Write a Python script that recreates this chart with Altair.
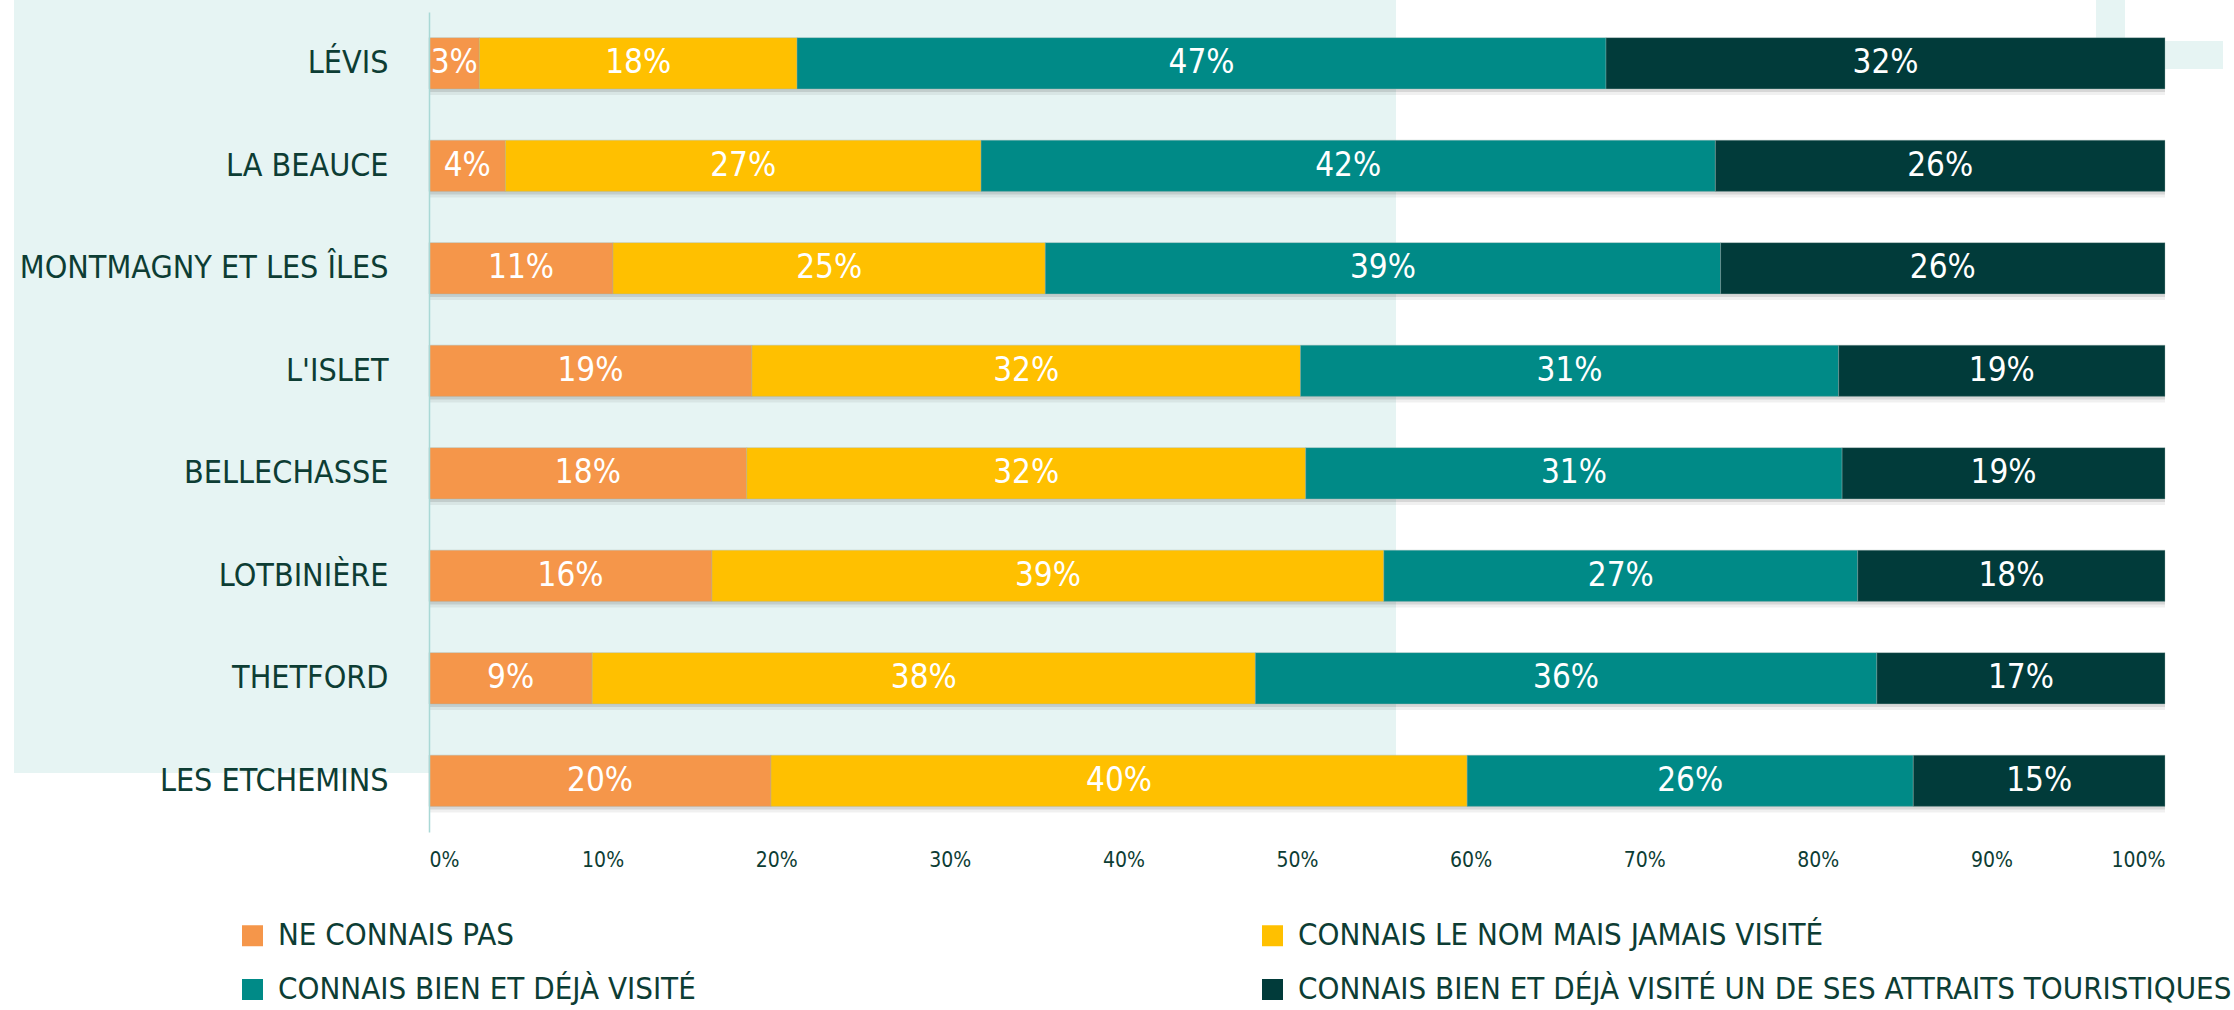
import altair as alt
import pandas as pd

regions = ["LÉVIS", "LA BEAUCE", "MONTMAGNY ET LES ÎLES", "L'ISLET",
           "BELLECHASSE", "LOTBINIÈRE", "THETFORD", "LES ETCHEMINS"]
categories = ["NE CONNAIS PAS",
              "CONNAIS LE NOM MAIS JAMAIS VISITÉ",
              "CONNAIS BIEN ET DÉJÀ VISITÉ",
              "CONNAIS BIEN ET DÉJÀ VISITÉ UN DE SES ATTRAITS TOURISTIQUES"]
colors = ["#F5964A", "#FFC000", "#008A87", "#013B3A"]

ne_connais_pas = [2.9, 4.4, 10.6, 18.6, 18.3, 16.3, 9.4, 19.7]
connais_nom = [18.3, 27.4, 24.9, 31.6, 32.2, 38.7, 38.2, 40.1]
connais_bien = [46.6, 42.3, 38.9, 31.0, 30.9, 27.3, 35.8, 25.7]
attraits = [32.2, 25.9, 25.6, 18.8, 18.6, 17.7, 16.6, 14.5]
x_ticks = [0, 10, 20, 30, 40, 50, 60, 70, 80, 90, 100]

FONT = "DejaVu Sans Condensed, sans-serif"
TEXT = "#0D3D34"
BG = "#E6F4F3"

series = [ne_connais_pas, connais_nom, connais_bien, attraits]
rows = []
for i, r in enumerate(regions):
    start = 0.0
    for c, vals in zip(categories, series):
        v = vals[i]
        rows.append({"region": r, "cat": c, "start": start, "end": start + v,
                     "mid": start + v / 2, "label": f"{int(v + 0.5)}%"})
        start += v
df = pd.DataFrame(rows)
totals = pd.DataFrame({"region": regions, "zero": [0] * len(regions),
                       "total": [a + b + c + d for a, b, c, d in zip(*series)]})
dummy = pd.DataFrame({"k": [0]})

yscale = alt.Scale(domain=regions, paddingInner=0.5, paddingOuter=0.25)
xscale = alt.Scale(domain=[0, 100], nice=False)

bg_rect = alt.Chart(dummy).mark_rect(color=BG).encode(
    x=alt.value(-415), x2=alt.value(967), y=alt.value(-12), y2=alt.value(761))
deco_v = alt.Chart(dummy).mark_rect(color=BG).encode(
    x=alt.value(1667), x2=alt.value(1696), y=alt.value(-12), y2=alt.value(40))
deco_h = alt.Chart(dummy).mark_rect(color=BG).encode(
    x=alt.value(1667), x2=alt.value(1794), y=alt.value(29), y2=alt.value(57))

shadow1 = alt.Chart(totals).mark_bar(color="#000000", opacity=0.10, yOffset=3).encode(
    y=alt.Y("region:N", scale=yscale, sort=regions),
    x=alt.X("zero:Q", scale=xscale), x2="total:Q")
shadow2 = alt.Chart(totals).mark_bar(color="#000000", opacity=0.06, yOffset=6).encode(
    y=alt.Y("region:N", scale=yscale, sort=regions),
    x=alt.X("zero:Q", scale=xscale), x2="total:Q")

legend_order = [categories[0], categories[2], categories[1], categories[3]]

bars = alt.Chart(df).mark_bar(stroke="#9FB3B1", strokeWidth=0.6, strokeOpacity=0.6).encode(
    y=alt.Y("region:N", scale=yscale, sort=regions,
            axis=alt.Axis(title=None, labelFontSize=32, labelColor=TEXT, labelFont=FONT,
                          ticks=False, domainColor="#A9D8D5", domainWidth=1.5,
                          labelPadding=41, labelLimit=1000, zindex=1)),
    x=alt.X("start:Q", scale=xscale,
            axis=alt.Axis(title=None, values=x_ticks, labelExpr="datum.value + '%'",
                          domain=False, ticks=False, grid=False, labelFontSize=21,
                          labelColor=TEXT, labelFont=FONT, labelPadding=17)),
    x2="end:Q",
    color=alt.Color("cat:N", scale=alt.Scale(domain=categories, range=colors),
                    legend=alt.Legend(orient="none", legendX=-192, legendY=908, columns=2,
                                      values=legend_order, padding=0,
                                      columnPadding=561, rowPadding=22, symbolType="square",
                                      symbolSize=441, symbolStrokeWidth=0, labelFontSize=31,
                                      labelColor=TEXT, labelFont=FONT, labelLimit=1200,
                                      title=None, labelOffset=10, symbolOpacity=1)),
)

labels = alt.Chart(df).mark_text(color="white", fontSize=33, font=FONT,
                                 baseline="middle", align="center").encode(
    y=alt.Y("region:N", scale=yscale, sort=regions),
    x=alt.X("mid:Q", scale=xscale),
    text="label:N")

chart = alt.layer(bg_rect, deco_v, deco_h, shadow2, shadow1, bars, labels).properties(
    width=1736, height=820,
    autosize=alt.AutoSizeParams(type="none"),
    padding={"left": 429, "top": 12, "right": 69, "bottom": 178},
    background="white",
).configure_view(stroke=None)

chart.save("out.html", embed_options={"renderer": "svg", "actions": False})
